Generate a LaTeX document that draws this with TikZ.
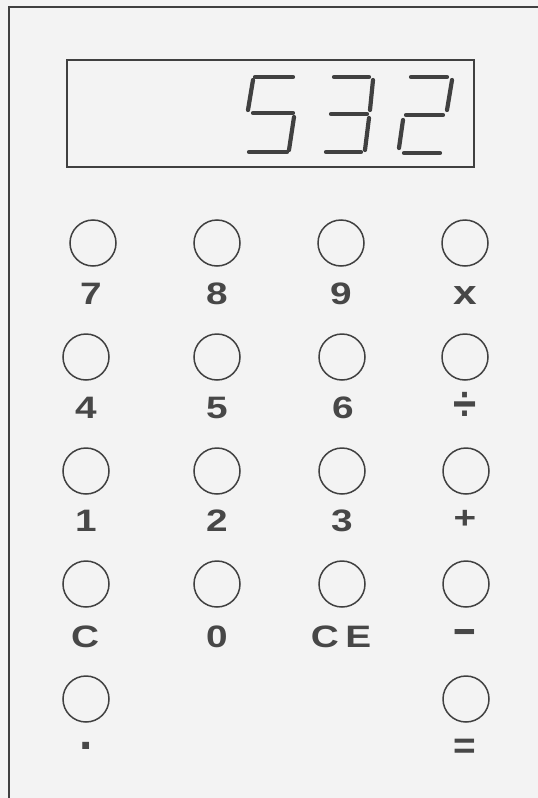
\documentclass[tikz,border=0pt]{standalone}
\usepackage{fontspec}
\setmainfont{Liberation Sans}
\usepackage{graphicx}
\definecolor{bg}{HTML}{F3F3F3}
\definecolor{ink}{HTML}{404040}
\definecolor{labc}{HTML}{474747}
\newcommand{\wide}[1]{\scalebox{1.25}[1]{#1}}
\begin{document}
\begin{tikzpicture}[x=1pt,y=-1pt,
  key/.style={circle,draw=ink,line width=1.5pt,minimum size=46pt,inner sep=0pt},
  lab/.style={anchor=base,inner sep=0pt,text=labc,font=\fontsize{31}{31}\selectfont\bfseries},
  seg/.style={line width=4.2pt,line cap=round,draw=ink}]
\fill[bg] (0,0) rectangle (538,798);
\useasboundingbox (0,0) rectangle (538,798);
% outer frame
\draw[line width=2pt,draw=ink] (9,798) -- (9,7) -- (538,7);
% display
\node (disp) [draw=ink,line width=1.6pt,minimum width=407pt,minimum height=107pt,inner sep=0pt] at (270.5,113.5) {};
% digit 5
\draw[seg] (255,77) -- (293,77);
\draw[seg] (253,80) -- (248,110);
\draw[seg] (253,113) -- (293,113);
\draw[seg] (294,117) -- (289,150);
\draw[seg] (249,152) -- (287,152);
% digit 3
\draw[seg] (334,77) -- (369,77);
\draw[seg] (373,80) -- (370,110);
\draw[seg] (331,114) -- (367,114);
\draw[seg] (369,118) -- (365,150);
\draw[seg] (326,152) -- (361,152);
% digit 2
\draw[seg] (411,77) -- (447,77);
\draw[seg] (452,80) -- (447,110);
\draw[seg] (406,115) -- (443,115);
\draw[seg] (403,120) -- (399,148);
\draw[seg] (404,153) -- (440,153);
% keys row 1
\node[key] (k7) at (93,243) {};
\node[key] (k8) at (217,243) {};
\node[key] (k9) at (341,243) {};
\node[key] (kx) at (465,243) {};
\node[lab] (l7) at (91,304) {\wide{7}};
\node[lab] (l8) at (217,304) {\wide{8}};
\node[lab] (l9) at (341,304) {\wide{9}};
\node[lab,font=\fontsize{34}{34}\selectfont\bfseries] (lx) at (465,304) {\wide{x}};
% row 2
\node[key] (k4) at (86,357) {};
\node[key] (k5) at (217,357) {};
\node[key] (k6) at (342,357) {};
\node[key] (kd) at (465,357) {};
\node[lab] (l4) at (86,418) {\wide{4}};
\node[lab] (l5) at (217,418) {\wide{5}};
\node[lab] (l6) at (343,418) {\wide{6}};
\node[lab,font=\fontsize{42}{42}\selectfont\bfseries] (ld) at (465,420) {\scalebox{1}[1.15]{÷}};
% row 3
\node[key] (k1) at (86,471) {};
\node[key] (k2) at (217,471) {};
\node[key] (k3) at (342,471) {};
\node[key] (kp) at (466,471) {};
\node[lab] (l1) at (86,531) {\wide{1}};
\node[lab] (l2) at (217,531) {\wide{2}};
\node[lab] (l3) at (342,531) {\wide{3}};
\node[lab] (lp) at (465,528) {\wide{+}};
% row 4
\node[key] (kc) at (86,584) {};
\node[key] (k0) at (217,584) {};
\node[key] (kce) at (342,584) {};
\node[key] (km) at (466,584) {};
\node[lab] (lc) at (85,647) {\wide{C}};
\node[lab] (l0) at (217,647) {\wide{0}};
\node[lab] (lce) at (341,647) {\wide{C\,E}};
\node[lab] (lm) at (465,647) {\scalebox{1.25}[1.5]{−}};
% row 5
\node[key] (kdot) at (86,699) {};
\node[key] (keq) at (466,699) {};
\node[lab,font=\fontsize{48}{48}\selectfont\bfseries] (ldot) at (86,749) {.};
\node[lab] (leq) at (465,758) {\scalebox{1.25}[1.2]{=}};
\end{tikzpicture}
\end{document}
